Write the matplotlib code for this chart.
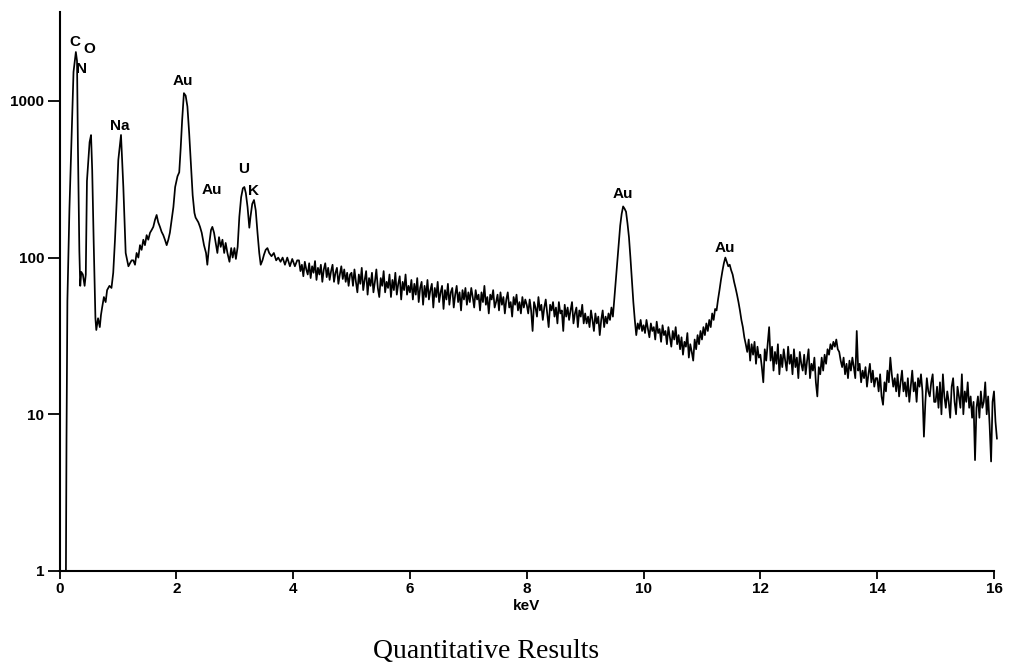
import numpy as np
import matplotlib
matplotlib.use("Agg")
import matplotlib.pyplot as plt
from matplotlib.ticker import NullLocator, FixedLocator, FixedFormatter

# ---- data: low-energy region (irregular channels) ----
kev_low = [0.00, 0.11, 0.12, 0.135, 0.17, 0.21, 0.24, 0.28, 0.30, 0.315, 0.34, 0.355,
           0.373, 0.40, 0.43, 0.45, 0.47, 0.515, 0.54, 0.56, 0.585, 0.615, 0.63, 0.66,
           0.69, 0.71, 0.73, 0.76, 0.79, 0.815, 0.855, 0.89, 0.92, 0.95, 0.98, 1.007,
           1.053, 1.093, 1.133, 1.18, 1.207, 1.235, 1.264, 1.293, 1.32, 1.35, 1.378,
           1.406, 1.435, 1.463, 1.492, 1.52, 1.55, 1.578, 1.606, 1.635, 1.663, 1.69,
           1.72, 1.748, 1.777, 1.805, 1.835, 1.863, 1.89, 1.92, 1.95, 1.98, 2.02, 2.05,
           2.075, 2.10, 2.13, 2.16, 2.19, 2.22, 2.25, 2.28, 2.31, 2.33, 2.377, 2.406,
           2.435, 2.474, 2.509, 2.531, 2.566, 2.594, 2.617, 2.646, 2.68, 2.703, 2.731,
           2.76, 2.79, 2.82, 2.845, 2.875, 2.91, 2.94, 2.965, 2.995, 3.02, 3.05, 3.079,
           3.11, 3.14, 3.165, 3.19, 3.22, 3.25, 3.27, 3.30, 3.33, 3.36, 3.39, 3.42,
           3.445, 3.475, 3.50, 3.53, 3.56, 3.59, 3.63, 3.67, 3.71, 3.745, 3.785, 3.82,
           3.86, 3.90, 3.945, 3.985, 4.03, 4.07]
counts_low = [1, 1, 7, 53, 204, 635, 1530, 2050, 1800, 520, 110, 66,
              81, 78, 66, 78, 308, 545, 605, 360, 127, 41, 34.5, 41,
              36, 43, 48, 56, 52, 62, 66, 64, 80, 130, 233, 420,
              606, 282, 107, 88, 92, 96, 96, 90, 107, 100, 120,
              112, 130, 120, 139, 130, 144, 150, 157, 174, 187, 168,
              157, 146, 139, 130, 120, 130, 144, 174, 210, 282, 330, 350,
              500, 755, 1120, 1080, 920, 624, 400, 250, 193, 180, 168, 157,
              144, 120, 107, 90, 124, 150, 157, 144, 120, 107, 135,
              117, 130, 107, 124, 107, 94, 115, 100, 115, 98, 117, 182,
              243, 277, 282, 258, 210, 155, 182, 220, 233, 200, 144, 107,
              90, 96, 104, 112, 115, 107, 102, 107, 96, 100, 94, 100,
              90, 100, 88, 98, 88, 96]

# ---- data: 4.10 - 16.05 keV, channels every 0.025 keV ----
counts_4 = [96, 82, 90, 76, 94, 84, 78, 92, 74, 88, 80, 95, 72, 86, 78, 90, 70, 84,
            92, 75, 86, 72, 82, 90, 70, 80, 86, 68, 78, 88, 73, 84, 70, 80, 66, 78]
counts_5 = [80, 66, 84, 70, 60, 78, 68, 86, 62, 72, 82, 58, 74, 66, 80, 60, 70, 84, 64, 56,
            74, 66, 82, 60, 70, 64, 78, 56, 72, 62, 80, 58, 68, 76, 54, 70, 62, 78, 58, 66]
counts_6 = [60, 72, 54, 68, 58, 74, 52, 64, 70, 50, 66, 56, 72, 54, 62, 68, 48, 64, 56, 70,
            52, 60, 66, 47, 62, 54, 68, 50, 60, 64, 48, 58, 66, 52, 60, 46, 62, 54, 64, 50]
counts_7 = [60, 52, 64, 56, 48, 62, 54, 58, 46, 60, 52, 66, 50, 56, 44, 58, 54, 62, 48, 52,
            58, 46, 60, 50, 56, 44, 54, 60, 48, 52, 42, 56, 50, 58, 46, 52, 44, 56, 48, 54]
counts_8 = [50, 44, 54, 46, 34, 52, 48, 42, 56, 46, 50, 40, 48, 54, 44, 36, 50, 46, 52, 42,
            48, 38, 52, 44, 46, 34, 50, 42, 48, 40, 46, 52, 38, 44, 48, 36, 46, 42, 50, 38]
counts_9 = [44, 38, 42, 36, 46, 40, 34, 44, 38, 42, 32, 40, 46, 36, 42, 38, 44, 40, 48, 42,
            55, 72, 95, 125, 160, 190, 212, 205, 196, 165, 135, 100, 72, 52, 40, 32, 38, 35, 40, 34]
counts_10 = [37, 33, 40, 35, 31, 38, 34, 36, 30, 39, 33, 35, 29, 37, 32, 34, 28, 36, 31, 27,
             34, 30, 36, 28, 32, 26, 31, 24, 29, 27, 33, 23, 28, 25, 22, 30, 26, 32, 28, 34]
counts_11 = [30, 36, 32, 38, 34, 40, 36, 44, 40, 47, 46, 54, 62, 72, 82, 92, 100, 94, 88, 90,
             83, 78, 70, 64, 58, 52, 46, 40, 36, 31, 28, 25, 30, 22, 28, 24, 29, 21, 27, 23]
counts_12 = [24, 20, 16, 26, 22, 28, 36, 22, 27, 19, 25, 21, 28, 18, 24, 20, 26, 22, 19, 27,
             21, 24, 18, 26, 20, 23, 17, 25, 21, 19, 24, 18, 22, 26, 17, 21, 19, 23, 16, 13]
counts_13 = [20, 18, 23, 19, 24, 21, 26, 24, 28, 26, 29, 27, 30, 26, 25, 22, 20, 23, 18, 21,
             17, 22, 19, 23, 20, 17, 34, 19, 21, 16, 19, 17, 20, 15, 18, 21, 16, 19, 15, 17]
counts_14 = [17, 14, 18, 13, 11.5, 16, 14, 19, 16, 23, 18, 15, 17, 14, 18, 13, 16, 19, 14, 16,
             13, 17, 12, 15, 19, 14, 16, 12, 17, 15, 18, 14, 7.2, 12, 17, 14, 13, 16, 18, 12]
counts_15 = [12, 15, 11, 16, 10, 18, 13, 11, 14, 12, 9.5, 15, 17, 12, 10, 15, 13, 11, 18, 10,
             14, 12, 16, 11, 13, 9.5, 12, 5.1, 11, 13, 9.5, 14, 11, 12, 16, 10, 13, 8.5, 5.0, 12]
counts_16 = [14, 9, 7]

counts_hi = (counts_4 + counts_5 + counts_6 + counts_7 + counts_8 + counts_9 + counts_10
             + counts_11 + counts_12 + counts_13 + counts_14 + counts_15 + counts_16)
kev_hi = list(np.round(4.10 + 0.025 * np.arange(len(counts_hi)), 3))

kev = kev_low + kev_hi
counts = counts_low + counts_hi

# peak labels
label_text = ["C", "O", "N", "Au", "Na", "Au", "U", "K", "Au", "Au"]
label_kev = [0.26, 0.505, 0.385, 2.114, 1.036, 2.61, 3.159, 3.33, 9.65, 11.39]
label_cnt = [2377, 2144, 1600, 1340, 692, 270, 368, 266, 255, 115]

x_ticks = [0, 2, 4, 6, 8, 10, 12, 14, 16]
y_ticks = [1, 10, 100, 1000]
y_tick_labels = ["1", "10", "100", "1000"]

# ---- figure ----
plt.rcParams['font.family'] = ['Liberation Sans', 'DejaVu Sans']
fig = plt.figure(figsize=(10.09, 6.67), dpi=100)
ax = fig.add_axes([59.5 / 1009, 1 - 571 / 667, (994 - 59.5) / 1009, (571 - 12) / 667])

ax.plot(kev, counts, color="black", lw=1.25, clip_on=False)
ax.set_yscale("log")
ax.set_xlim(0, 16)
ax.set_ylim(1, 3690)

ax.xaxis.set_major_locator(FixedLocator(x_ticks))
ax.yaxis.set_major_locator(FixedLocator(y_ticks))
ax.yaxis.set_major_formatter(FixedFormatter(y_tick_labels))
ax.yaxis.set_minor_locator(NullLocator())
ax.xaxis.set_minor_locator(NullLocator())

for s in ["top", "right"]:
    ax.spines[s].set_visible(False)
for s in ["left", "bottom"]:
    ax.spines[s].set_linewidth(1.5)

ax.tick_params(axis="y", direction="out", length=9, width=1.3, pad=2, labelsize=11)
ax.tick_params(axis="x", direction="out", length=6, width=1.3, pad=2, labelsize=11)
for lab in ax.get_xticklabels() + ax.get_yticklabels():
    lab.set_fontweight("bold")

ax.set_xlabel("keV", fontsize=11, fontweight="bold", labelpad=2)

for t, xk, yc in zip(label_text, label_kev, label_cnt):
    ax.text(xk, yc, t, fontsize=11, fontweight="bold", ha="center", va="center")

fig.text(486 / 1009, 1 - 651 / 667, "Quantitative Results", fontsize=20,
         family=["Liberation Serif", "DejaVu Serif"], ha="center", va="center")

fig.savefig("out.png", dpi=100)
